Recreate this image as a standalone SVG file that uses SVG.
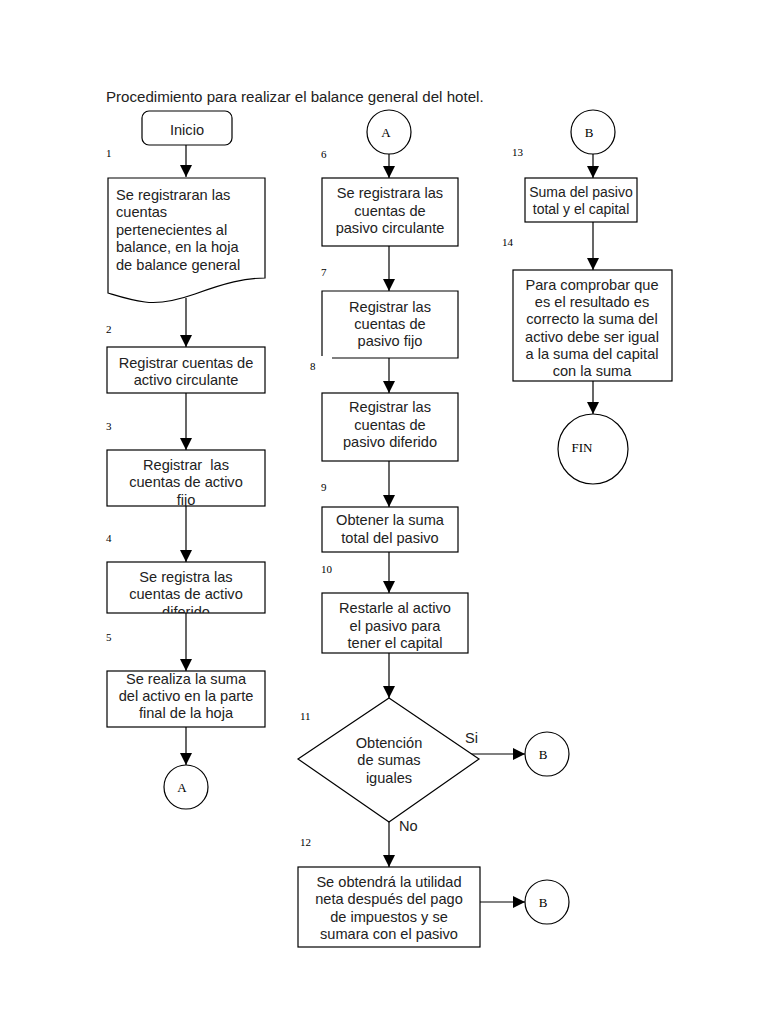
<svg xmlns="http://www.w3.org/2000/svg" width="768" height="1024" viewBox="0 0 768 1024">
<style>
.bx{fill:#fff;stroke:#000;stroke-width:1.2}
.t{font-family:"Liberation Sans",Arial,sans-serif;font-size:14.6px;fill:#222;text-anchor:middle}
.ts{font-family:"Liberation Sans",Arial,sans-serif;font-size:14px;fill:#222;text-anchor:middle}
.tl{font-family:"Liberation Sans",Arial,sans-serif;font-size:14.6px;fill:#222}
.n{font-family:"Liberation Serif","Times New Roman",serif;font-size:11px;fill:#000}
.c{font-family:"Liberation Serif","Times New Roman",serif;font-size:13px;fill:#000;text-anchor:middle}
.ln{stroke:#000;stroke-width:1.2;fill:none;marker-end:url(#ah)}
</style>
<defs>
<marker id="ah" markerUnits="userSpaceOnUse" markerWidth="12" markerHeight="12" refX="12" refY="6" orient="auto"><path d="M0,0 L12,6 L0,12 z" fill="#000"/></marker>
<clipPath id="c3"><rect x="107" y="450" width="158" height="56"/></clipPath>
<clipPath id="c4"><rect x="107" y="562" width="158" height="51"/></clipPath>
</defs>
<rect width="768" height="1024" fill="#fff"/>
<text class="tl" x="106" y="102" style="font-size:15.1px">Procedimiento para realizar el balance general del hotel.</text>

<g id="connectors">
<line class="ln" x1="186" y1="145" x2="186" y2="177"/>
<line class="ln" x1="186" y1="298" x2="186" y2="347"/>
<line class="ln" x1="186" y1="393" x2="186" y2="450"/>
<line class="ln" x1="186" y1="506" x2="186" y2="562"/>
<line class="ln" x1="186" y1="613" x2="186" y2="671"/>
<line class="ln" x1="186" y1="727" x2="186" y2="765"/>
<line class="ln" x1="389" y1="154" x2="389" y2="178"/>
<line class="ln" x1="389" y1="246" x2="389" y2="291"/>
<line class="ln" x1="389" y1="358" x2="389" y2="393"/>
<line class="ln" x1="389" y1="461" x2="389" y2="507"/>
<line class="ln" x1="389" y1="552" x2="389" y2="593"/>
<line class="ln" x1="389" y1="653" x2="389" y2="698"/>
<line class="ln" x1="468" y1="754" x2="525" y2="754"/>
<line class="ln" x1="389" y1="822" x2="389" y2="867"/>
<line class="ln" x1="480" y1="902" x2="525" y2="902"/>
<line class="ln" x1="593" y1="154" x2="593" y2="178"/>
<line class="ln" x1="593" y1="222" x2="593" y2="270"/>
<line class="ln" x1="593" y1="381" x2="593" y2="414"/>
</g>

<g id="inicio">
<rect class="bx" x="142" y="111" width="90" height="34" rx="7"/>
<text class="t" x="187" y="135">Inicio</text>
</g>
<g id="n1">
<text class="n" x="106" y="157">1</text>
<path class="bx" d="M108,178 H265 V278 C245,278 225,283 195,294 C175,301 160,304 145,302 C130,300 118,296 108,293 Z"/>
<text class="tl" x="116" y="200">Se registraran las</text>
<text class="tl" x="116" y="217">cuentas</text>
<text class="tl" x="116" y="235">pertenecientes al</text>
<text class="tl" x="116" y="252">balance, en la hoja</text>
<text class="tl" x="116" y="270">de balance general</text>
</g>
<g id="n2">
<text class="n" x="106" y="333">2</text>
<rect class="bx" x="107" y="347" width="158" height="46"/>
<text class="t" x="186" y="368">Registrar cuentas de</text>
<text class="t" x="186" y="385">activo circulante</text>
</g>
<g id="n3">
<text class="n" x="106" y="430">3</text>
<rect class="bx" x="107" y="450" width="158" height="56"/>
<g clip-path="url(#c3)">
<text class="t" x="186" y="470" xml:space="preserve">Registrar  las</text>
<text class="t" x="186" y="487">cuentas de activo</text>
<text class="t" x="186" y="505">fijo</text>
</g>
</g>
<g id="n4">
<text class="n" x="106" y="542">4</text>
<rect class="bx" x="107" y="562" width="158" height="51"/>
<g clip-path="url(#c4)">
<text class="t" x="186" y="582">Se registra las</text>
<text class="t" x="186" y="599">cuentas de activo</text>
<text class="t" x="186" y="617">diferido</text>
</g>
</g>
<g id="n5">
<text class="n" x="106" y="641">5</text>
<rect class="bx" x="107" y="671" width="158" height="56"/>
<text class="t" x="186" y="684">Se realiza la suma</text>
<text class="t" x="186" y="701">del activo en la parte</text>
<text class="t" x="186" y="718">final de la hoja</text>
</g>
<g id="connA1">
<circle class="bx" cx="186" cy="787" r="22"/>
<text class="c" x="182" y="792">A</text>
</g>

<g id="connA2">
<circle class="bx" cx="389" cy="132" r="22"/>
<text class="c" x="386" y="137">A</text>
</g>
<g id="n6">
<text class="n" x="321" y="158">6</text>
<rect class="bx" x="322" y="178" width="136" height="68"/>
<text class="t" x="390" y="198">Se registrara las</text>
<text class="t" x="390" y="215.5">cuentas de</text>
<text class="t" x="390" y="233">pasivo circulante</text>
</g>
<g id="n7">
<text class="n" x="321" y="276">7</text>
<path class="bx" d="M332,358 H458 V291 H322 V356" fill="none"/>
<text class="t" x="390" y="312">Registrar las</text>
<text class="t" x="390" y="329">cuentas de</text>
<text class="t" x="390" y="346">pasivo fijo</text>
</g>
<g id="n8">
<text class="n" x="310" y="370">8</text>
<rect class="bx" x="322" y="393" width="136" height="68"/>
<text class="t" x="390" y="412">Registrar las</text>
<text class="t" x="390" y="429.5">cuentas de</text>
<text class="t" x="390" y="447">pasivo diferido</text>
</g>
<g id="n9">
<text class="n" x="321" y="491">9</text>
<rect class="bx" x="322" y="507" width="136" height="45"/>
<text class="t" x="390" y="525">Obtener la suma</text>
<text class="t" x="390" y="543">total del pasivo</text>
</g>
<g id="n10">
<text class="n" x="321" y="573">10</text>
<rect class="bx" x="322" y="593" width="146" height="60"/>
<text class="t" x="395" y="613">Restarle al activo</text>
<text class="t" x="395" y="631">el pasivo para</text>
<text class="t" x="395" y="648">tener el capital</text>
</g>
<g id="n11">
<text class="n" x="300" y="720">11</text>
<polygon class="bx" points="389,698 479,759 389,822 298,759"/>
<text class="t" x="389" y="748">Obtención</text>
<text class="t" x="389" y="765">de sumas</text>
<text class="t" x="389" y="783">iguales</text>
<text class="tl" x="465" y="743">Si</text>
<text class="tl" x="399" y="831">No</text>
</g>
<g id="connB1">
<circle class="bx" cx="547" cy="754" r="22"/>
<text class="c" x="543" y="759">B</text>
</g>
<g id="n12">
<text class="n" x="300" y="846">12</text>
<rect class="bx" x="298" y="867" width="182" height="80"/>
<text class="t" x="389" y="887">Se obtendrá la utilidad</text>
<text class="t" x="389" y="904">neta después del pago</text>
<text class="t" x="389" y="922">de impuestos y se</text>
<text class="t" x="389" y="939">sumara con el pasivo</text>
</g>
<g id="connB2">
<circle class="bx" cx="547" cy="902" r="22"/>
<text class="c" x="543" y="907">B</text>
</g>

<g id="connB3">
<circle class="bx" cx="593" cy="132" r="22"/>
<text class="c" x="589" y="137">B</text>
</g>
<g id="n13">
<text class="n" x="512" y="156">13</text>
<rect class="bx" x="525" y="178" width="112" height="44"/>
<text class="ts" x="581" y="197">Suma del pasivo</text>
<text class="ts" x="581" y="214">total y el capital</text>
</g>
<g id="n14">
<text class="n" x="502" y="246">14</text>
<rect class="bx" x="513" y="270" width="159" height="111"/>
<text class="t" x="592" y="290">Para comprobar que</text>
<text class="t" x="592" y="307">es el resultado es</text>
<text class="t" x="592" y="324">correcto la suma del</text>
<text class="t" x="592" y="342">activo debe ser igual</text>
<text class="t" x="592" y="359">a la suma del capital</text>
<text class="t" x="592" y="376">con la suma</text>
</g>
<g id="fin">
<circle class="bx" cx="593" cy="449" r="35"/>
<text class="c" x="582" y="452">FIN</text>
</g>
</svg>
